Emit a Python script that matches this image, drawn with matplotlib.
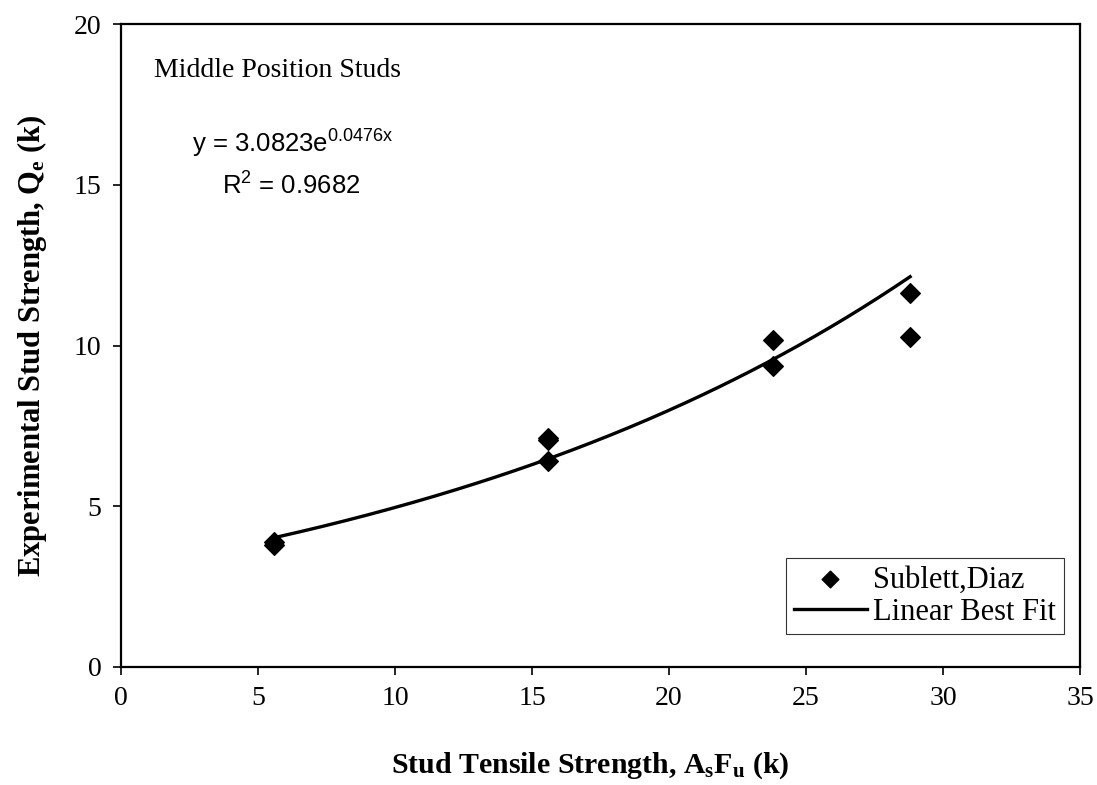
import numpy as np
import matplotlib
matplotlib.use('Agg')
import matplotlib.pyplot as plt

# Данные
stud_x = [5.6, 5.6, 15.6, 15.6, 15.6, 23.8, 23.8, 28.8, 28.8]
stud_q = [3.8, 3.9, 7.12, 7.06, 6.41, 10.17, 9.36, 11.63, 10.26]
fit_a = 3.0823
fit_b = 0.0476
fit_range = [5.6, 28.8]

plt.rcParams['font.family'] = 'Liberation Serif'
plt.rcParams['mathtext.fontset'] = 'custom'
plt.rcParams['mathtext.rm'] = 'Liberation Serif'
plt.rcParams['mathtext.bf'] = 'Liberation Serif:bold'
plt.rcParams['mathtext.sf'] = 'Liberation Sans'

fig = plt.figure(figsize=(10.97, 7.85), dpi=100)
ax = fig.add_axes([121 / 1097, 1 - 667 / 785, (1080 - 121) / 1097, (667 - 24) / 785])

# точки
ax.scatter(stud_x, stud_q, marker='D', s=100, color='black', zorder=3,
           label='Sublett,Diaz')

# линия тренда
xf = np.linspace(fit_range[0], fit_range[1], 200)
ax.plot(xf, fit_a * np.exp(fit_b * xf), color='black', lw=2.4,
        label='Linear Best Fit')

ax.set_xlim(0, 35)
ax.set_ylim(0, 20)
ax.set_xticks(range(0, 36, 5))
ax.set_yticks(range(0, 21, 5))
ax.tick_params(direction='out', length=6, width=1.2, labelsize=20, pad=8)
for s in ax.spines.values():
    s.set_linewidth(1.6)

ax.set_xlabel(r'Stud Tensile Strength, $\mathbf{A_sF_u}$ (k)',
              fontsize=21.5, fontweight='bold', labelpad=28)
ax.xaxis.label.set_x(0.489)
ax.set_ylabel(r'Experimental Stud Strength, $\mathbf{Q_e}$ (k)',
              fontsize=22, fontweight='bold', labelpad=18)

ax.text(1.2, 18.55, 'Middle Position Studs', fontsize=20, va='center')
ax.text(2.6, 16.3, r'y = 3.0823e$^{\mathsf{0.0476x}}$', fontsize=18.5,
        family='Liberation Sans', va='center')
ax.text(3.7, 15.0, r'R$^{\mathsf{2}}$ = 0.9682', fontsize=18.5,
        family='Liberation Sans', va='center')

leg = ax.legend(loc='lower right', bbox_to_anchor=(0.983, 0.051), fontsize=22,
                frameon=True, fancybox=False, edgecolor='black',
                handlelength=2.4, handletextpad=0.2, borderpad=0.25,
                labelspacing=0.1, markerscale=0.85, borderaxespad=0)
leg.get_frame().set_linewidth(0.8)

plt.savefig('out.png', dpi=100)
